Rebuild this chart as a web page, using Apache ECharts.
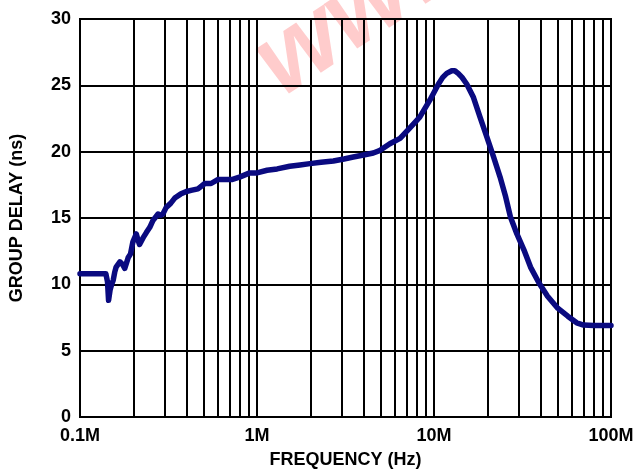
<!DOCTYPE html>
<html>
<head>
<meta charset="utf-8">
<script src="https://cdn.jsdelivr.net/npm/echarts@6/dist/echarts.min.js"></script>
<style>html,body{margin:0;padding:0;background:#fff}#c{width:636px;height:470px}</style>
</head>
<body>
<div id="c"></div>
<script>
// Frequency in MHz
var freq = [0.1, 0.14, 0.143, 0.145, 0.148, 0.151, 0.154, 0.157, 0.160, 0.168, 0.174, 0.179, 0.187, 0.193, 0.199, 0.208, 0.213, 0.217, 0.227, 0.237, 0.248, 0.258, 0.276, 0.285, 0.294, 0.307, 0.325, 0.343, 0.37, 0.399, 0.43, 0.464, 0.507, 0.55, 0.60, 0.66, 0.72, 0.803, 0.91, 1.0, 1.14, 1.3, 1.53, 1.75, 1.99, 2.3, 2.7, 3.1, 3.5, 4.0, 4.54, 4.96, 5.63, 6.43, 7.31, 8.31, 9.49, 10.6, 11.2, 11.8, 12.6, 13.1, 13.7, 14.4, 15.3, 16.7, 18.2, 19.9, 21.7, 23.6, 25.4, 27.0, 29.4, 32.2, 35.1, 39.2, 43.8, 50.0, 57.0, 64.0, 70.0, 80.0, 100.0];
var delay = [10.8, 10.8, 10.2, 8.8, 9.6, 10.0, 10.3, 10.9, 11.3, 11.7, 11.5, 11.2, 12.0, 12.3, 13.2, 13.8, 13.3, 13.0, 13.5, 13.9, 14.3, 14.8, 15.3, 15.2, 15.3, 15.8, 16.1, 16.5, 16.8, 17.0, 17.1, 17.2, 17.6, 17.6, 17.9, 17.9, 17.9, 18.1, 18.4, 18.4, 18.6, 18.7, 18.9, 19.0, 19.1, 19.2, 19.3, 19.45, 19.6, 19.75, 19.9, 20.1, 20.6, 21.0, 21.8, 22.6, 23.9, 25.1, 25.6, 25.9, 26.1, 26.1, 25.9, 25.6, 25.1, 24.1, 22.6, 21.1, 19.6, 18.1, 16.6, 15.1, 13.8, 12.6, 11.3, 10.1, 9.1, 8.2, 7.6, 7.1, 6.93, 6.9, 6.9];
var xTickValues = [0.1, 1, 10, 100];
var xTickLabels = ['0.1M', '1M', '10M', '100M'];
var minorFreqs = [0.2, 0.3, 0.4, 0.5, 0.6, 0.7, 0.8, 0.9, 2, 3, 4, 5, 6, 7, 8, 9, 20, 30, 40, 50, 60, 70, 80, 90];
var xTitle = 'FREQUENCY (Hz)';
var yTitle = 'GROUP DELAY (ns)';
var watermark = 'www.';

var font = '"Liberation Sans", Arial, Helvetica, sans-serif';
var chart = echarts.init(document.getElementById('c'), null, {renderer: 'canvas'});
var pts = freq.map(function (f, i) { return [f, delay[i]]; });
chart.setOption({
  animation: false,
  backgroundColor: '#fff',
  graphic: [{
    type: 'text',
    z: -10,
    x: 237, y: 30,
    rotation: 0.58,
    style: {
      text: watermark,
      font: 'italic bold 105px ' + font,
      fill: 'rgba(255,0,0,0.2)'
    }
  }],
  grid: {left: 80, right: 25, top: 19, bottom: 53, outerBoundsMode: 'none', containLabel: false,
    show: true, borderColor: '#000', borderWidth: 2, backgroundColor: 'transparent'},
  xAxis: {
    type: 'log', logBase: 10, min: 0.1, max: 100,
    name: xTitle, nameLocation: 'middle', nameGap: 34,
    nameTextStyle: {color: '#000', fontWeight: 'bold', fontSize: 18, fontFamily: font},
    axisLine: {show: true, lineStyle: {color: '#000', width: 2}},
    axisTick: {show: false},
    splitLine: {show: true, lineStyle: {color: '#000', width: 2}},
    axisLabel: {
      color: '#000', fontWeight: 'bold', fontSize: 18, fontFamily: font, margin: 10,
      formatter: function (v) {
        var best = 0, d = Infinity;
        for (var i = 0; i < xTickValues.length; i++) {
          var dd = Math.abs(Math.log10(v) - Math.log10(xTickValues[i]));
          if (dd < d) { d = dd; best = i; }
        }
        return xTickLabels[best];
      }
    }
  },
  yAxis: {
    type: 'value', min: 0, max: 30, interval: 5,
    name: yTitle, nameLocation: 'middle', nameGap: 54, nameRotate: 90,
    nameTextStyle: {color: '#000', fontWeight: 'bold', fontSize: 18, fontFamily: font},
    axisLine: {show: true, lineStyle: {color: '#000', width: 2}},
    axisTick: {show: false},
    splitLine: {show: true, lineStyle: {color: '#000', width: 2}},
    axisLabel: {color: '#000', fontWeight: 'bold', fontSize: 18, fontFamily: font, margin: 9}
  },
  series: [{
    type: 'line',
    data: [],
    z: 1,
    markLine: {
      silent: true,
      symbol: ['none', 'none'],
      label: {show: false},
      lineStyle: {color: '#000', width: 2, type: 'solid'},
      emphasis: {disabled: true},
      data: minorFreqs.map(function (f) { return {xAxis: f}; })
    }
  }, {
    type: 'line',
    z: 10,
    data: pts,
    showSymbol: false,
    symbol: 'none',
    lineStyle: {color: '#0a0a80', width: 5.5, join: 'round', cap: 'round'},
    smooth: false
  }]
});
</script>
</body>
</html>
